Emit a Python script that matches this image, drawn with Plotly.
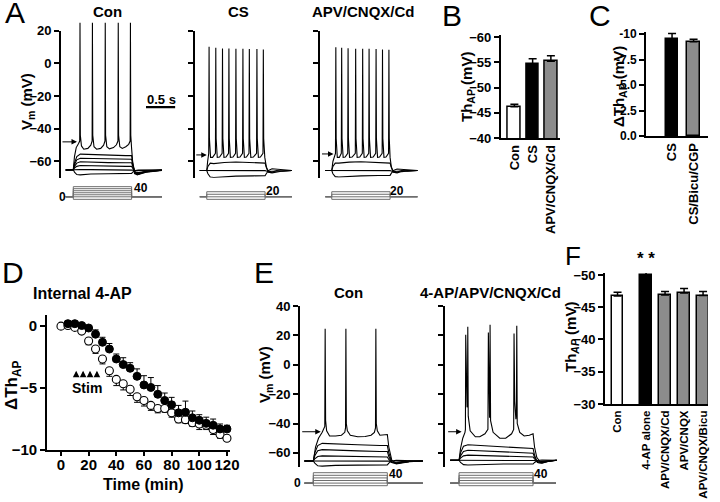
import plotly.graph_objects as go

W, H = 720, 502
FONT = "Liberation Sans, Arial, Helvetica, sans-serif"
GRAY = "rgb(140,140,140)"
STIM = "rgb(110,110,110)"

# ---------------- data ----------------
# A: current clamp, time (s) from step onset, Vm (mV)
A_con_t = [-0.13, 0, 0.02, 0.06, 0.12, 0.3, 0.6, 0.9, 1.0, 1.02, 1.06, 1.12, 1.25, 1.52]
A_con_sub = [
    [-65.2, -65, -66.5, -68, -68.2, -67.7, -67.5, -67.4, -67.3, -66.5, -65.5, -65.3, -65.2, -65.2],
    [-65.2, -65, -65.1, -65.0, -64.9, -65.0, -65.1, -65.0, -65.0, -65.3, -65.6, -65.5, -65.3, -65.2],
    [-65.2, -65, -64, -63, -62.5, -62.7, -62.9, -63, -63, -64.5, -66.5, -66.8, -66, -65.3],
    [-65.2, -65, -63, -61, -60.2, -60.5, -60.7, -60.8, -60.8, -63, -66.8, -67.2, -66.2, -65.4],
    [-65.2, -65, -62, -59, -58, -58.2, -58.5, -58.6, -58.6, -62, -67, -67.6, -66.4, -65.4],
    [-65.2, -65, -61, -57, -55.5, -55.8, -56.2, -56.4, -56.4, -61, -67.2, -68, -66.6, -65.5],
]
A_con_spk = [(-0.13, -65.2), (0, -65), (0.02, -57), (0.05, -51.5), (0.09, -49), (0.11, -47.5),
             (0.115, 25), (0.121, -44), (0.14, -50.5), (0.18, -52.5), (0.25, -52), (0.3, -50), (0.323, -47.5),
             (0.328, 25), (0.334, -44), (0.355, -51), (0.4, -52.5), (0.47, -52), (0.52, -50), (0.543, -47.5),
             (0.548, 25), (0.554, -44), (0.575, -51), (0.62, -52.3), (0.69, -51.5), (0.74, -49.8), (0.766, -47.5),
             (0.771, 25), (0.777, -44), (0.798, -51), (0.84, -52), (0.9, -51), (0.95, -49.5), (0.975, -47.5),
             (0.98, 25), (0.986, -44), (1.0, -52), (1.02, -61), (1.05, -67.5), (1.1, -68.2), (1.2, -66.5),
             (1.35, -65.5), (1.52, -65.2)]

A_cs_t = [-0.12, 0, 0.02, 0.06, 0.12, 0.3, 0.5, 0.8, 1.0, 1.02, 1.06, 1.12, 1.2, 1.3, 1.46]
A_cs_sub = [
    [-65.5, -65.5, -67.5, -69.5, -69.8, -69.3, -69, -68.8, -68.7, -67.5, -65.5, -64.5, -64.8, -65.3, -65.5],
    [-65.5, -65.5, -65.4, -65.3, -65.3, -65.4, -65.5, -65.6, -65.6, -65.8, -66.2, -66, -65.8, -65.6, -65.5],
    [-65.5, -65.5, -63, -61, -61.3, -60.6, -60.3, -60.8, -61, -63.5, -66.5, -67, -66.3, -65.8, -65.5],
]
A_cs_spk = [(-0.12, -65.5), (0, -65.5), (0.015, -60), (0.03, -56.5), (0.034, -55),
            (0.04, 10.2), (0.046, -46), (0.065, -57.5), (0.1, -57.5), (0.149, -55),
            (0.155, 9.6), (0.161, -46), (0.18, -57.5), (0.22, -57.3), (0.264, -55),
            (0.27, 9.2), (0.276, -46), (0.295, -57.5), (0.33, -57.3), (0.374, -55),
            (0.38, 9.2), (0.386, -46), (0.405, -57.5), (0.45, -57.3), (0.494, -55),
            (0.50, 9.0), (0.506, -46), (0.525, -57.5), (0.57, -57.3), (0.614, -55),
            (0.62, 9.0), (0.626, -46), (0.645, -57.5), (0.68, -57.3), (0.724, -55),
            (0.73, 8.8), (0.736, -46), (0.755, -57.5), (0.8, -57.3), (0.854, -55),
            (0.86, 8.8), (0.866, -46), (0.885, -57.5), (0.92, -57.3), (0.964, -55),
            (0.97, 8.6), (0.976, -46), (0.995, -57.5), (1.02, -63), (1.05, -66.5), (1.1, -66.8),
            (1.2, -65.5), (1.3, -66), (1.46, -65.5)]

A_apv_t = [-0.11, 0, 0.02, 0.06, 0.12, 0.3, 0.5, 0.8, 1.0, 1.02, 1.06, 1.12, 1.2, 1.3, 1.47]
A_apv_sub = [
    [-65.5, -65.5, -67.5, -69.3, -69.5, -69, -68.8, -68.6, -68.5, -67.3, -65.5, -64.6, -64.9, -65.3, -65.5],
    [-65.5, -65.5, -65.4, -65.3, -65.3, -65.4, -65.5, -65.5, -65.6, -65.8, -66.2, -66, -65.7, -65.6, -65.5],
    [-65.5, -65.5, -63, -61, -61, -60.4, -60.2, -60.5, -61, -63.5, -66.5, -67, -66.2, -65.8, -65.5],
]
A_apv_spk = [(-0.11, -65.5), (0, -65.5), (0.02, -60), (0.05, -56.5), (0.064, -55),
             (0.07, 10.0), (0.076, -46), (0.095, -57.5), (0.13, -57.5), (0.164, -55),
             (0.17, 9.6), (0.176, -46), (0.195, -57.5), (0.23, -57.3), (0.274, -55),
             (0.28, 9.3), (0.286, -46), (0.305, -57.5), (0.35, -57.3), (0.404, -55),
             (0.41, 9.0), (0.416, -46), (0.435, -57.5), (0.48, -57.3), (0.524, -55),
             (0.53, 9.0), (0.536, -46), (0.555, -57.5), (0.59, -57.3), (0.634, -55),
             (0.64, 9.0), (0.646, -46), (0.665, -57.5), (0.71, -57.3), (0.754, -55),
             (0.76, 8.8), (0.766, -46), (0.785, -57.5), (0.82, -57.3), (0.864, -55),
             (0.87, 8.6), (0.876, -46), (0.895, -57.5), (0.93, -57.3), (0.974, -55),
             (0.98, 8.4), (0.986, -46), (1.0, -57.5), (1.02, -63), (1.05, -66.5), (1.1, -66.8),
             (1.2, -65.5), (1.3, -66), (1.47, -65.5)]

A_con_levels = [-10, 0, 8, 16, 24, 32, 40]   # pA
A_cs_levels = [-10, 0, 10, 20]
A_thr = [-48, -56, -55.4]                     # threshold arrows (mV)
STEP = 1.0                                    # s
SCALE_BAR = 0.5                               # s

# B
B_cat = ["Con", "CS", "APV/CNQX/Cd"]
B_val = [-46.2, -54.6, -55.2]
B_err = [0.5, 1.1, 1.1]

# C
C_cat = ["CS", "CS/Bicu/CGP"]
C_val = [-9.5, -9.25]
C_err = [0.55, 0.23]

# D
D_t_open = [0, 5, 10, 15, 20, 25, 30, 35, 40, 45, 50, 55, 60, 65, 70, 75, 80, 85, 90, 95, 100, 105, 110, 115, 120]
D_open = [0, 0.05, -0.1, -0.4, -1.2, -1.85, -2.65, -3.6, -4.3, -4.65, -5.1, -5.7, -6.0, -6.4, -6.65,
          -6.65, -7.0, -7.5, -7.55, -7.8, -7.9, -8.0, -8.35, -8.75, -9.05]
D_open_err = [0, 0, 0.1, 0.15, 0.3, 0.35, 0.4, 0.45, 0.5, 0.5, 0.5, 0.45, 0.45, 0.4, 0.35,
              0.3, 0.35, 0.3, 0.3, 0.3, 0.45, 0.35, 0.4, 0.3, 0.2]
D_t_fill = [5, 10, 15, 20, 25, 30, 35, 40, 45, 50, 55, 60, 65, 70, 75, 80, 85, 90, 95, 100, 105, 110, 115, 120]
D_fill = [0.2, 0.2, 0.05, -0.15, -0.65, -1.3, -1.85, -2.65, -3.1, -3.4, -4.05, -4.75, -4.95, -5.5,
          -6.0, -6.35, -7.0, -6.95, -7.4, -7.6, -7.85, -8.0, -8.3, -8.3]
D_fill_err = [0.1, 0.1, 0.1, 0.15, 0.35, 0.4, 0.45, 0.4, 0.55, 0.45, 0.6, 0.75, 0.8, 0.7, 0.6,
              0.6, 0.6, 0.9, 0.55, 0.45, 0.5, 0.5, 0.4, 0.3]
D_stim_t = [11, 16, 21, 26]

# E
E_con_t = [-0.12, 0, 0.02, 0.06, 0.12, 0.3, 0.6, 0.9, 1.0, 1.02, 1.06, 1.12, 1.2, 1.3, 1.48]
E_con_sub = [
    [-65.5, -65.5, -67, -68.8, -69, -68.5, -68.3, -68.2, -68.2, -67, -65.5, -65, -65.2, -65.4, -65.5],
    [-65.5, -65.5, -65.5, -65.3, -65.2, -65.3, -65.4, -65.5, -65.5, -65.6, -66, -66.2, -65.9, -65.7, -65.5],
    [-65.5, -65.5, -64, -62.5, -62, -62.2, -62.6, -62.8, -62.8, -64.5, -66.5, -66.8, -66.3, -65.8, -65.5],
    [-65.5, -65.5, -62, -58.5, -57.8, -58.2, -58.6, -59, -59, -62.5, -66.5, -67.2, -66.5, -65.8, -65.5],
    [-65.5, -65.5, -60, -55, -53.5, -54, -54.5, -55, -55, -60, -66, -67.5, -66.8, -66, -65.5],
]
E_con_spk = [(-0.12, -65.5), (0, -65.5), (0.03, -56), (0.07, -50), (0.12, -46), (0.155, -42),
             (0.16, 24.5), (0.166, -38), (0.18, -45), (0.22, -48.5), (0.3, -48.5), (0.38, -48), (0.425, -46),
             (0.435, -43), (0.44, 24.5), (0.446, -40), (0.46, -45), (0.5, -48), (0.6, -49), (0.7, -48.8),
             (0.78, -48), (0.825, -46), (0.84, -43), (0.845, 24.5), (0.851, -40), (0.865, -45), (0.9, -48),
             (0.96, -48), (1.0, -47.5), (1.02, -56), (1.06, -65), (1.12, -67), (1.2, -66.5), (1.3, -65.8),
             (1.48, -65.5)]

E_ap_t = [-0.12, 0, 0.02, 0.06, 0.12, 0.3, 0.6, 0.9, 1.0, 1.02, 1.06, 1.12, 1.2, 1.32]
E_ap_sub = [
    [-65, -65, -66.5, -68, -68.2, -67.8, -67.6, -67.6, -67.6, -66.5, -65.2, -64.8, -65, -65],
    [-65, -65, -65, -64.8, -64.8, -64.9, -65, -65.1, -65.1, -65.2, -65.6, -65.8, -65.4, -65],
    [-65, -65, -63.5, -62, -61.5, -61.8, -62.2, -62.6, -62.8, -64, -66, -66.3, -65.6, -65],
    [-65, -65, -62, -59, -58.2, -58.6, -59.3, -60, -60.2, -63, -66.5, -66.8, -65.8, -65],
    [-65, -65, -60, -55.5, -54.5, -55, -56, -56.8, -57, -61.5, -66.5, -67, -65.8, -65],
]
E_ap_spk = [(-0.12, -65), (0, -65), (0.02, -57), (0.05, -50), (0.08, -46), (0.086, -44),
            (0.09, 20.4), (0.098, -20), (0.108, -29), (0.114, -25), (0.118, 25.9), (0.124, -35),
            (0.15, -45), (0.22, -49), (0.28, -49), (0.35, -47), (0.39, -44),
            (0.396, 22.0), (0.404, -25), (0.412, -36), (0.416, -32), (0.419, 27.2), (0.426, -38),
            (0.46, -46), (0.55, -50), (0.63, -50), (0.71, -47), (0.738, -44),
            (0.743, 21.3), (0.752, -25), (0.768, -37), (0.775, -33), (0.78, 26.5), (0.786, -40),
            (0.82, -46), (0.88, -48.5), (0.95, -48), (1.0, -47), (1.02, -56), (1.05, -63),
            (1.1, -66.5), (1.2, -65.5), (1.32, -65)]
E_levels = [-10, 0, 10, 20, 30, 40]
E_thr = [-45.6, -45.6]

# F
F_cat = ["Con", "4-AP alone", "APV/CNQX/Cd", "APV/CNQX", "APV/CNQX/Bicu"]
F_val = [-46.75, -50.0, -46.9, -47.2, -46.8]
F_err = [0.55, 0.85, 0.55, 0.7, 0.65]

# ---------------- figure ----------------
fig = go.Figure()


def nm(n):
    return "" if n == 1 else str(n)


def px_x(a, b):
    return [a / W, b / W]


def px_y(top, bottom):
    return [1 - bottom / H, 1 - top / H]


def axes(n, xd, xr, yd, yr, xkw=None, ykw=None):
    base = dict(showgrid=False, zeroline=False, linecolor="black", linewidth=1.8, automargin=False,
                ticks="outside", ticklen=5, tickwidth=1.5, tickcolor="black", tickfont=dict(size=13))
    xa = dict(base, domain=px_x(*xd), range=xr, anchor="y" + nm(n))
    ya = dict(base, domain=px_y(*yd), range=yr, anchor="x" + nm(n))
    xa.update(xkw or dict(visible=False))
    ya.update(ykw or dict(visible=False))
    fig.layout["xaxis" + nm(n)] = xa
    fig.layout["yaxis" + nm(n)] = ya


def line(n, x, y, color="black", width=1.1):
    fig.add_trace(go.Scatter(x=list(x), y=list(y), mode="lines", hoverinfo="skip",
                             line=dict(color=color, width=width),
                             xaxis="x" + nm(n), yaxis="y" + nm(n)))


def stim(n, levels, t0, t1):
    for lv in levels:
        line(n, [t0, 0, 0, STEP, STEP, t1], [0, 0, lv, lv, 0, 0], color=STIM, width=1)


vm_axis = dict(showline=True, tickvals=[20, 0, -20, -40, -60])
vm_axis_nolab = dict(vm_axis, showticklabels=False)

# A1 (Con)
axes(1, (61, 178), [-0.211, 1.796], (30.8, 177.8), [-70, 20], ykw=vm_axis)
axes(15, (61, 178), [-0.211, 1.796], (22.6, 177.8), [-70, 25])
axes(2, (61, 178), [-0.211, 1.796], (185.4, 200.6), [-15, 45])
for v in A_con_sub:
    line(1, A_con_t, v)
line(15, *zip(*A_con_spk))
stim(2, A_con_levels, A_con_t[0], A_con_t[-1])
line(1, [1.247, 1.247 + SCALE_BAR], [-26.7, -26.7], width=2.2)

# A2 (CS)
axes(3, (194.5, 296), [-0.21, 1.53], (30.8, 177.8), [-70, 20], ykw=vm_axis_nolab)
axes(4, (194.5, 296), [-0.21, 1.53], (185.4, 200.6), [-15, 45])
for v in A_cs_sub:
    line(3, A_cs_t, v)
line(3, *zip(*A_cs_spk))
stim(4, A_cs_levels, A_cs_t[0], A_cs_t[-1])

# A3 (APV/CNQX/Cd)
axes(5, (319.5, 421), [-0.21, 1.53], (30.8, 177.8), [-70, 20], ykw=vm_axis_nolab)
axes(6, (319.5, 421), [-0.21, 1.53], (185.4, 200.6), [-15, 45])
for v in A_apv_sub:
    line(5, A_apv_t, v)
line(5, *zip(*A_apv_spk))
stim(6, A_cs_levels, A_apv_t[0], A_apv_t[-1])

# bar panels
bar_x = dict(visible=True, showline=True, ticks="", tickangle=-90, tickfont=dict(size=13))
BAR_LINE = dict(color="black", width=1.5)


def bars(n, pos, vals, errs, colors, width):
    fig.add_trace(go.Bar(x=pos, y=vals, width=width, hoverinfo="skip",
                         marker=dict(color=colors, line=BAR_LINE),
                         error_y=dict(type="data", symmetric=False, array=[0] * len(errs),
                                      arrayminus=errs, color="black", thickness=1.5, width=4),
                         xaxis="x" + nm(n), yaxis="y" + nm(n)))


B_pos = [0, 1, 2]
axes(7, (500.7, 560), [-0.75, 2.5], (35, 138), [-40, -60.4],
     xkw=dict(bar_x, tickvals=B_pos, ticktext=B_cat),
     ykw=dict(showline=True, tickvals=[-60, -55, -50, -45, -40]))
bars(7, B_pos, B_val, B_err, ["white", "black", GRAY], 0.7)

C_pos = [0, 1]
axes(8, (646, 708), [-1.21, 1.67], (32, 136), [0, -10.2],
     xkw=dict(bar_x, tickvals=C_pos, ticktext=C_cat),
     ykw=dict(showline=True, tickvals=[-10, -7.5, -5, -2.5, 0], tickfont=dict(size=12),
              ticktext=["-10", "-7.5", "-5.0", "-2.5", "0.0"]))
bars(8, C_pos, C_val, C_err, ["black", GRAY], 0.59)

F_pos = [0, 1.5, 2.5, 3.5, 4.5]
axes(14, (605, 708), [-0.66, 4.76], (273, 404), [-30, -50.3],
     xkw=dict(bar_x, tickvals=F_pos, ticktext=F_cat, tickfont=dict(size=11.5)),
     ykw=dict(showline=True, tickvals=[-50, -45, -40, -35, -30]))
bars(14, F_pos, F_val, F_err, ["white", "black", GRAY, GRAY, GRAY], 0.6)

# D
axes(9, (47, 230), [-10.1, 122.2], (315, 450), [-10, 0.9],
     xkw=dict(visible=True, showline=True, ticklen=4, ticklabelstandoff=-4,
              tickvals=[0, 20, 40, 60, 80, 100, 120], tickfont=dict(size=15)),
     ykw=dict(visible=True, showline=True, tickvals=[0, -5, -10], tickfont=dict(size=15)))
fig.add_trace(go.Scatter(x=D_t_open, y=D_open, mode="markers", hoverinfo="skip", cliponaxis=False,
                         marker=dict(symbol="circle", size=8, color="white", line=dict(color="black", width=1.1)),
                         error_y=dict(type="data", symmetric=False, array=[0] * len(D_open_err),
                                      arrayminus=D_open_err, color="black", thickness=1, width=3),
                         xaxis="x9", yaxis="y9"))
fig.add_trace(go.Scatter(x=D_t_fill, y=D_fill, mode="markers", hoverinfo="skip", cliponaxis=False,
                         marker=dict(symbol="circle", size=8, color="black", line=dict(color="black", width=1)),
                         error_y=dict(type="data", symmetric=False, array=D_fill_err,
                                      arrayminus=[0] * len(D_fill_err), color="black", thickness=1, width=3),
                         xaxis="x9", yaxis="y9"))

# E1 (Con)
e_axis = dict(showline=True, tickvals=[40, 20, 0, -20, -40, -60])
axes(10, (300, 425), [-0.18, 1.509], (306, 467), [-69.6, 40], ykw=e_axis)
axes(11, (300, 425), [-0.18, 1.509], (471.4, 487), [-15, 45])
for v in E_con_sub:
    line(10, E_con_t, v)
line(10, *zip(*E_con_spk))
stim(11, E_levels, E_con_t[0], E_con_t[-1])

# E2 (4-AP/APV/CNQX/Cd)
axes(12, (445, 560), [-0.19, 1.364], (306, 467), [-69.6, 40], ykw=dict(e_axis, showticklabels=False))
axes(13, (445, 560), [-0.19, 1.364], (471.4, 487), [-15, 45])
for v in E_ap_sub:
    line(12, E_ap_t, v)
line(12, *zip(*E_ap_spk))
stim(13, E_levels, E_ap_t[0], E_ap_t[-1] - 0.01)

# ---------------- text ----------------
ann = []


def note(text, x, y, size=14, angle=0, weight="bold", **kw):
    ann.append(dict(text=text, x=x / W, y=1 - y / H, xref="paper", yref="paper", showarrow=False,
                    xanchor="center", yanchor="middle", textangle=angle,
                    font=dict(size=size, weight=weight, family=FONT, color="black"), **kw))


for letter, x, y, s in [("A", 15, 13, 30), ("B", 452, 16, 30), ("C", 600, 16, 30),
                        ("D", 13, 272, 30), ("E", 264, 272, 30), ("F", 573, 256, 26)]:
    note(letter, x, y, size=s, weight="normal")

note("Con", 107, 12, 15)
note("CS", 238, 12, 15)
note("APV/CNQX/Cd", 363, 12, 15)
note("Internal 4-AP", 82, 293, 16)
note("Con", 348, 292, 15)
note("4-AP/APV/CNQX/Cd", 490, 292, 15)

note("V<sub>m</sub> (mV)", 27, 102, 15, angle=-90)
note("Th<sub>AP</sub> (mV)", 467, 87, 15, angle=-90)
note("ΔTh<sub>AP</sub> (mV)", 619, 87, 15, angle=-90)
note("ΔTh<sub>AP</sub>", 13, 385, 17, angle=-90)
note("V<sub>m</sub> (mV)", 265, 375, 15, angle=-90)
note("Th<sub><i>AP</i></sub> (mV)", 571, 337, 15, angle=-90)
note("Time (min)", 143, 484, 16)
note("Stim", 87, 388, 14)
note("* *", 646, 258, 17)
note("0.5 s", 161, 99, 13)

for txt, x, y in [("0", 62, 197), ("40", 141, 188), ("20", 273, 191), ("20", 397, 191),
                  ("0", 297, 483), ("40", 396, 474), ("40", 541, 474)]:
    note(txt, x, y, 12)

# threshold arrows (head at the trace, tail at the axis)
ARROW = dict(showarrow=True, arrowhead=2, arrowsize=1.1, arrowwidth=1, arrowcolor="black", text="", ay=0)
for n, t, thr, length in [(1, 0.063, A_thr[0], 16), (3, 0.0, A_thr[1], 12), (5, 0.03, A_thr[2], 13),
                          (10, 0.1, E_thr[0], 20), (12, 0.035, E_thr[1], 15)]:
    ann.append(dict(ARROW, x=t, y=thr, xref="x" + nm(n), yref="y" + nm(n), ax=-length))

# stimulation arrows in D
for t in D_stim_t:
    ann.append(dict(ARROW, x=t, y=-3.6, xref="x9", yref="y9", ax=0, ay=7, arrowwidth=1.2))

fig.update_layout(
    width=W, height=H,
    margin=dict(l=0, r=0, t=0, b=0, autoexpand=False),
    paper_bgcolor="white", plot_bgcolor="rgba(0,0,0,0)",
    showlegend=False,
    bargap=0,
    font=dict(family=FONT, size=14, color="black", weight="bold"),
    annotations=ann,
)

# the page body has a default 8px margin; drop it so the figure sits at the window corner
fig.write_html("out.html", config={"displayModeBar": False},
               post_script="document.body.style.margin='0px';")
